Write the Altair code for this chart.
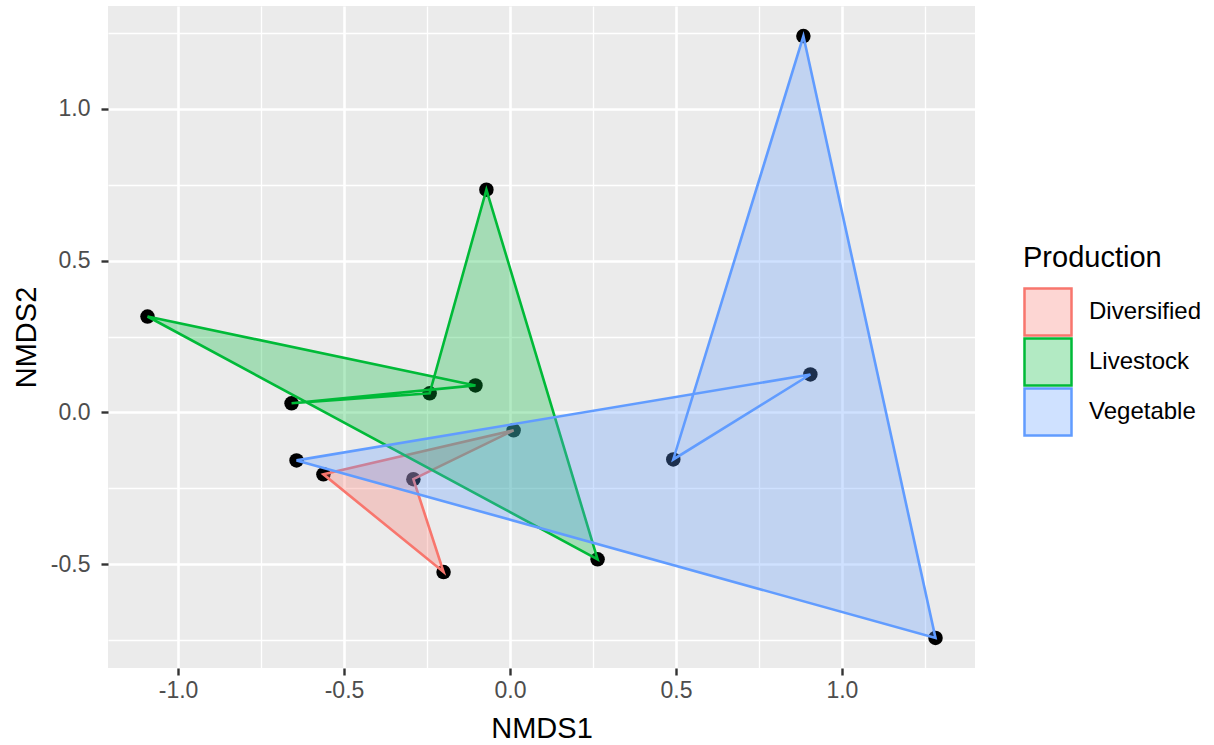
import altair as alt
import pandas as pd

# ---- data ----
categories = ["Diversified", "Livestock", "Vegetable"]
stroke_colors = ["#F8766D", "#00BA38", "#619CFF"]
fill_colors = ["rgba(248,118,109,0.3)", "rgba(0,186,56,0.3)", "rgba(97,156,255,0.3)"]

production = ["Diversified"] * 4 + ["Livestock"] * 6 + ["Vegetable"] * 5
nmds1 = [-0.562, 0.011, -0.291, -0.200,
         -1.092, -0.104, -0.658, -0.242, -0.071, 0.264,
         -0.643, 0.905, 0.492, 0.884, 1.282]
nmds2 = [-0.204, -0.059, -0.220, -0.526,
         0.316, 0.089, 0.030, 0.063, 0.734, -0.484,
         -0.158, 0.125, -0.155, 1.240, -0.743]

x_domain = [-1.211, 1.401]
y_domain = [-0.842, 1.339]
x_ticks = [-1.0, -0.75, -0.5, -0.25, 0.0, 0.25, 0.5, 0.75, 1.0, 1.25]
y_ticks = [-0.75, -0.5, -0.25, 0.0, 0.25, 0.5, 0.75, 1.0, 1.25]

df = pd.DataFrame({
    "NMDS1": nmds1,
    "NMDS2": nmds2,
    "Production": production,
    "idx": list(range(len(nmds1))),
})

FONT = "Liberation Sans"
minor_test = "datum.value % 0.5 !== 0"
label_expr = ("datum.value % 0.5 === 0 ? replace(format(datum.value, '.1f'), '\u2212', '-') : ''")


def make_axis(title, ticks, label_pad, title_pad):
    return alt.Axis(
        title=title,
        values=ticks,
        labelExpr=label_expr,
        domain=False,
        grid=True,
        gridColor="white",
        gridWidth={"condition": {"test": minor_test, "value": 1.3}, "value": 2.6},
        tickColor="#333333",
        tickWidth=2.4,
        tickSize=7,
        tickOpacity={"condition": {"test": minor_test, "value": 0}, "value": 1},
        labelColor="#4D4D4D",
        labelFont=FONT,
        labelFontSize=23,
        labelPadding=label_pad,
        titleFont=FONT,
        titleFontSize=29,
        titleFontWeight="normal",
        titleColor="black",
        titlePadding=title_pad,
    )


x_enc = alt.X("NMDS1:Q", scale=alt.Scale(domain=x_domain, nice=False, zero=False),
              axis=make_axis("NMDS1", x_ticks, 4, 12))
y_enc = alt.Y("NMDS2:Q", scale=alt.Scale(domain=y_domain, nice=False, zero=False),
              axis=make_axis("NMDS2", y_ticks, 11, 9))

points = alt.Chart(df).mark_circle(size=210, color="black", opacity=1).encode(
    x=x_enc, y=y_enc
)

legend = alt.Legend(
    title="Production",
    orient="none",
    legendX=915,
    legendY=238,
    symbolType="square",
    symbolSize=2209,
    symbolStrokeWidth=2.5,
    labelFont=FONT,
    labelFontSize=24,
    labelColor="black",
    labelOffset=16,
    titleFont=FONT,
    titleFontSize=29,
    titleFontWeight="normal",
    titleColor="black",
    titlePadding=14,
    clipHeight=50,
    rowPadding=0,
    padding=0,
)

polys = alt.Chart(df).mark_line(interpolate="linear-closed", strokeWidth=2.6).encode(
    x=x_enc,
    y=y_enc,
    order=alt.Order("idx:Q"),
    stroke=alt.Stroke("Production:N", scale=alt.Scale(domain=categories, range=stroke_colors), legend=legend),
    fill=alt.Fill("Production:N", scale=alt.Scale(domain=categories, range=fill_colors), legend=legend),
)

chart = alt.layer(points, polys).properties(
    width=867,
    height=662,
    padding={"left": 108, "top": 6, "right": 239, "bottom": 77},
    autosize=alt.AutoSizeParams(type="none"),
    background="white",
).configure_view(fill="#EBEBEB", stroke=None)

chart.save("out.html", embed_options={"renderer": "svg", "actions": False})
